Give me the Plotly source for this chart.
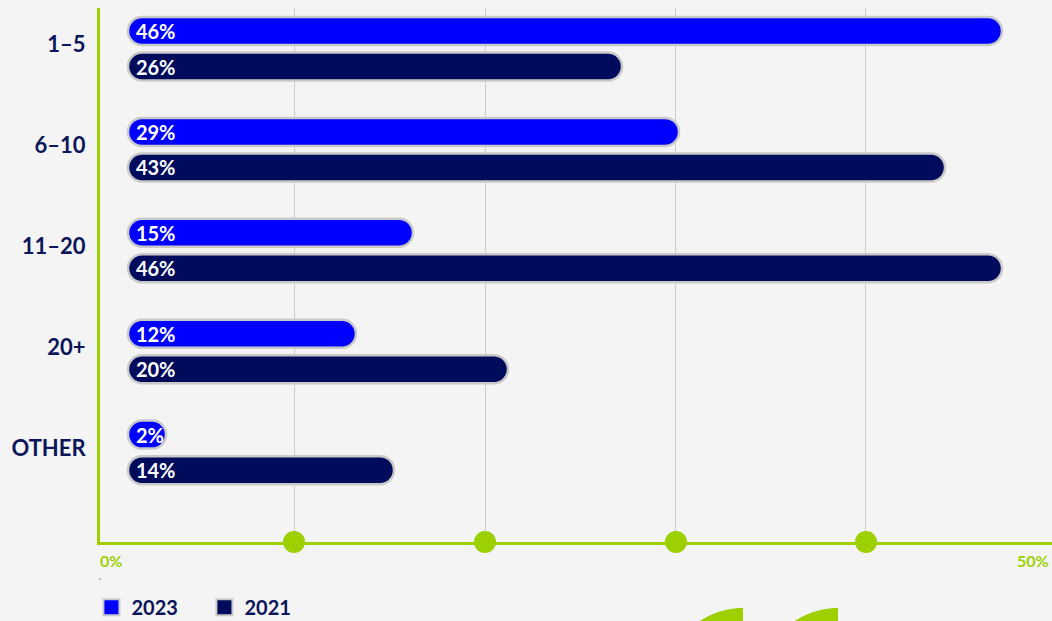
import math
import plotly.graph_objects as go

# ---------------- data ----------------
categories = ["1–5", "6–10", "11–20", "20+", "OTHER"]
values_2023 = [46, 29, 15, 12, 2]
values_2021 = [26, 43, 46, 20, 14]
series_names = ["2023", "2021"]
grid_ticks = [8.74, 18.79, 28.84, 38.84]   # faint vertical guides with dots
axis_end_labels = ["0%", "50%"]

# ---------------- style ----------------
BG = "#F4F4F4"
BLUE = "#0000FF"
NAVY = "#000B5B"
GREEN = "#9CD000"
BORDER = "#C9C9C9"
TEXT_NAVY = "#0B1559"
FONT = "Lato"

W, H = 1052, 621
ML, MR, MT, MB = 100, 0, 8, 79
PW, PH = W - ML - MR, H - MT - MB

BAR_T = 0.2775
series = [
    dict(name=series_names[0], values=values_2023, color=BLUE, offset=-0.315),
    dict(name=series_names[1], values=values_2021, color=NAVY, offset=0.037),
]

fig = go.Figure()

# pill-shaped bars with grey outline
for s in series:
    v = s["values"]
    fig.add_trace(go.Bar(
        x=v, base=[0] * len(v), y=categories, orientation="h",
        width=BAR_T, offset=s["offset"],
        marker=dict(color=s["color"], line=dict(color=BORDER, width=2.5), cornerradius="50%"),
        name=s["name"], showlegend=False,
        hovertemplate="%{y}: %{x}%<extra>" + s["name"] + "</extra>",
    ))

# value labels (transparent square bars carrying the text)
for s in series:
    v = s["values"]
    fig.add_trace(go.Bar(
        x=v, y=categories, orientation="h",
        width=BAR_T, offset=s["offset"],
        marker=dict(color="rgba(0,0,0,0)", line=dict(width=0)),
        text=[f" {x}%" for x in v],
        textposition="inside", insidetextanchor="start", constraintext="none",
        textfont=dict(color="white", size=20, family=FONT, weight="bold"),
        hoverinfo="skip", showlegend=False,
    ))

# legend entries
for s in series:
    fig.add_trace(go.Scatter(
        x=[None], y=[None], mode="markers", name=s["name"],
        marker=dict(symbol="square", size=18, color=s["color"], line=dict(color=BORDER, width=2)),
    ))

# green dots on the baseline at the guide positions
shapes = []
for t in grid_ticks:
    shapes.append(dict(
        type="circle", xref="x", yref="paper",
        xsizemode="pixel", xanchor=t, x0=-11, x1=11,
        ysizemode="pixel", yanchor=0, y0=-11, y1=11,
        fillcolor=GREEN, line=dict(width=0), layer="above",
    ))

# decorative quarter discs at the bottom
def px2paper(px, py):
    return (px - ML) / PW, (MT + PH - py) / PH

for cx in (743, 838):
    cy, R = 686, 78
    pts = [(cx, cy)]
    for i in range(0, 31):
        a = math.pi / 2 + (math.pi / 2) * i / 30
        pts.append((cx + R * math.cos(a), cy - R * math.sin(a)))
    path = "M " + " L ".join("{:.5f},{:.5f}".format(*px2paper(x, y)) for x, y in pts) + " Z"
    shapes.append(dict(type="path", xref="paper", yref="paper", path=path,
                       fillcolor=GREEN, line=dict(width=0), layer="above"))

annotations = [
    dict(text=axis_end_labels[0], xref="paper", yref="paper", x=0, y=0, xanchor="left", yanchor="middle",
         xshift=-2, yshift=-18, showarrow=False,
         font=dict(size=16, color=GREEN, family=FONT, weight="bold")),
    dict(text=axis_end_labels[1], xref="paper", yref="paper", x=1, y=0, xanchor="right", yanchor="middle",
         xshift=-1, yshift=-18, showarrow=False,
         font=dict(size=16, color=GREEN, family=FONT, weight="bold")),
    dict(text="`", xref="paper", yref="paper", x=0, y=-0.075, xanchor="center", yanchor="middle",
         showarrow=False, font=dict(size=12, color="#5B6B20", family=FONT)),
]

fig.update_layout(
    width=W, height=H,
    margin=dict(l=ML, r=MR, t=MT, b=MB, pad=0, autoexpand=False),
    paper_bgcolor=BG, plot_bgcolor=BG,
    barmode="overlay",
    xaxis=dict(range=[-1.474, 48.63], tickvals=grid_ticks, ticktext=[""] * len(grid_ticks),
               showgrid=True, gridcolor="#CCCCCC", gridwidth=1, zeroline=False,
               showline=True, linecolor=GREEN, linewidth=3, ticks="", fixedrange=True),
    yaxis=dict(categoryorder="array", categoryarray=categories, range=[4.888, -0.404],
               showgrid=False, zeroline=False, showline=True, linecolor=GREEN, linewidth=3,
               ticks="", ticklabelstandoff=7, ticklabelshift=4,
               tickfont=dict(size=22, color=TEXT_NAVY, family=FONT, weight="bold"), fixedrange=True),
    legend=dict(orientation="h", x=-0.009, xanchor="left", y=-0.122, yanchor="middle",
                font=dict(size=20, color=TEXT_NAVY, family=FONT, weight="bold"),
                itemsizing="trace", entrywidth=68, entrywidthmode="pixels",
                bgcolor="rgba(0,0,0,0)", borderwidth=0),
    shapes=shapes,
    annotations=annotations,
    showlegend=True,
)

fig.write_html("out.html", config={"displayModeBar": False},
               post_script="document.body.style.margin='0';")
